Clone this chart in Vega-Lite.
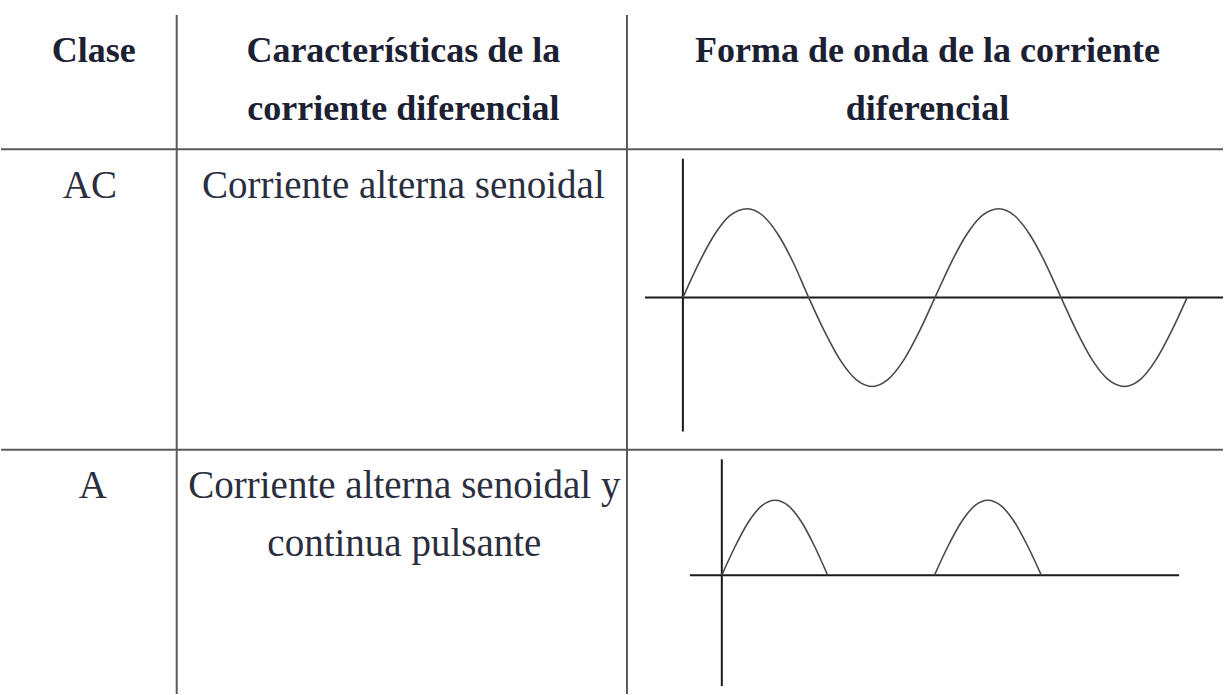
{
  "$schema": "https://vega.github.io/schema/vega-lite/v6.json",
  "width": 1224,
  "height": 695,
  "autosize": {"type": "fit", "contains": "padding"},
  "padding": 0,
  "background": "white",
  "config": {"view": {"stroke": null}},
  "datasets": {
    "rules": [
      {"kind": "table", "x": 0, "x2": 1224, "y": 149.5, "y2": 149.5},
      {"kind": "table", "x": 0, "x2": 1224, "y": 450.5, "y2": 450.5},
      {"kind": "table", "x": 176, "x2": 176, "y": 15, "y2": 695},
      {"kind": "table", "x": 627, "x2": 627, "y": 15, "y2": 695},
      {"kind": "axis", "x": 683, "x2": 683, "y": 159, "y2": 432},
      {"kind": "axis", "x": 645, "x2": 1224, "y": 298, "y2": 298},
      {"kind": "axis", "x": 722, "x2": 722, "y": 460, "y2": 687},
      {"kind": "axis", "x": 690, "x2": 1180, "y": 576, "y2": 576}
    ],
    "header": [
      {"x": 93, "y": 62, "text": "Clase"},
      {"x": 403, "y": 62, "text": "Características de la"},
      {"x": 403, "y": 120, "text": "corriente diferencial"},
      {"x": 928, "y": 62, "text": "Forma de onda de la corriente"},
      {"x": 928, "y": 120, "text": "diferencial"}
    ],
    "body": [
      {"x": 89, "y": 198, "text": "AC"},
      {"x": 403, "y": 198, "text": "Corriente alterna senoidal"},
      {"x": 92, "y": 499, "text": "A"},
      {"x": 404, "y": 499, "text": "Corriente alterna senoidal y"},
      {"x": 404, "y": 557, "text": "continua pulsante"}
    ],
    "wave": [
      {"seg": "ac", "x": 683.0, "y": 298},
      {"seg": "ac", "x": 698.8, "y": 263.9},
      {"seg": "ac", "x": 714.6, "y": 235.1},
      {"seg": "ac", "x": 730.3, "y": 215.8},
      {"seg": "ac", "x": 747.5, "y": 209},
      {"seg": "ac", "x": 763.0, "y": 215.8},
      {"seg": "ac", "x": 778.5, "y": 235.1},
      {"seg": "ac", "x": 794.0, "y": 263.9},
      {"seg": "ac", "x": 809.0, "y": 298},
      {"seg": "ac", "x": 825.0, "y": 332.1},
      {"seg": "ac", "x": 840.8, "y": 360.9},
      {"seg": "ac", "x": 856.6, "y": 380.2},
      {"seg": "ac", "x": 872.6, "y": 387},
      {"seg": "ac", "x": 888.2, "y": 380.2},
      {"seg": "ac", "x": 904.0, "y": 360.9},
      {"seg": "ac", "x": 919.7, "y": 332.1},
      {"seg": "ac", "x": 935.5, "y": 298},
      {"seg": "ac", "x": 951.3, "y": 263.9},
      {"seg": "ac", "x": 967.1, "y": 235.1},
      {"seg": "ac", "x": 982.9, "y": 215.8},
      {"seg": "ac", "x": 999.5, "y": 209},
      {"seg": "ac", "x": 1015.0, "y": 215.8},
      {"seg": "ac", "x": 1030.6, "y": 235.1},
      {"seg": "ac", "x": 1046.3, "y": 263.9},
      {"seg": "ac", "x": 1061.8, "y": 298},
      {"seg": "ac", "x": 1077.6, "y": 332.1},
      {"seg": "ac", "x": 1093.3, "y": 360.9},
      {"seg": "ac", "x": 1109.1, "y": 380.2},
      {"seg": "ac", "x": 1125.5, "y": 387},
      {"seg": "ac", "x": 1141.0, "y": 380.2},
      {"seg": "ac", "x": 1156.5, "y": 360.9},
      {"seg": "ac", "x": 1172.2, "y": 332.1},
      {"seg": "ac", "x": 1188.0, "y": 298},
      {"seg": "a1", "x": 722.0, "y": 576},
      {"seg": "a1", "x": 735.3, "y": 547.3},
      {"seg": "a1", "x": 748.5, "y": 523.0},
      {"seg": "a1", "x": 761.8, "y": 506.7},
      {"seg": "a1", "x": 775.5, "y": 501},
      {"seg": "a1", "x": 788.8, "y": 506.7},
      {"seg": "a1", "x": 802.0, "y": 523.0},
      {"seg": "a1", "x": 815.0, "y": 547.3},
      {"seg": "a1", "x": 828.0, "y": 576},
      {"seg": "a2", "x": 935.0, "y": 576},
      {"seg": "a2", "x": 948.4, "y": 547.3},
      {"seg": "a2", "x": 961.8, "y": 523.0},
      {"seg": "a2", "x": 975.1, "y": 506.7},
      {"seg": "a2", "x": 988.5, "y": 501},
      {"seg": "a2", "x": 1001.9, "y": 506.7},
      {"seg": "a2", "x": 1015.3, "y": 523.0},
      {"seg": "a2", "x": 1028.6, "y": 547.3},
      {"seg": "a2", "x": 1042.0, "y": 576}
    ]
  },
  "encoding": {
    "x": {"field": "x", "type": "quantitative", "scale": {"domain": [0, 1224], "nice": false, "zero": false}, "axis": null},
    "y": {"field": "y", "type": "quantitative", "scale": {"domain": [0, 695], "reverse": true, "nice": false, "zero": false}, "axis": null}
  },
  "layer": [
    {
      "data": {"name": "rules"},
      "transform": [{"filter": "datum.kind === 'table'"}],
      "mark": {"type": "rule", "color": "#5a5a5a", "strokeWidth": 2},
      "encoding": {"x2": {"field": "x2"}, "y2": {"field": "y2"}}
    },
    {
      "data": {"name": "rules"},
      "transform": [{"filter": "datum.kind === 'axis'"}],
      "mark": {"type": "rule", "color": "#1a1a1a", "strokeWidth": 2},
      "encoding": {"x2": {"field": "x2"}, "y2": {"field": "y2"}}
    },
    {
      "data": {"name": "wave"},
      "mark": {"type": "line", "color": "#4a4a4a", "strokeWidth": 1.6, "interpolate": "monotone"},
      "encoding": {"detail": {"field": "seg"}}
    },
    {
      "data": {"name": "header"},
      "mark": {"type": "text", "font": "Liberation Serif", "fontWeight": "bold", "fontSize": 36, "align": "center", "baseline": "alphabetic", "color": "#1c2033"},
      "encoding": {"text": {"field": "text"}}
    },
    {
      "data": {"name": "body"},
      "mark": {"type": "text", "font": "Liberation Serif", "fontSize": 39, "align": "center", "baseline": "alphabetic", "color": "#2a2e3e"},
      "encoding": {"text": {"field": "text"}}
    }
  ]
}
